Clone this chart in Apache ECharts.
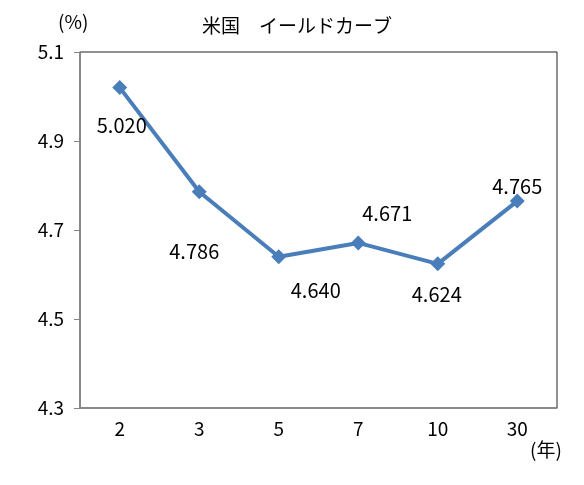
<!DOCTYPE html>
<html>
<head>
<meta charset="utf-8">
<script src="https://cdn.jsdelivr.net/npm/echarts@6/dist/echarts.min.js"></script>
<style>
  html, body { margin: 0; padding: 0; background: #fff; }
  #chart { width: 584px; height: 485px; }
</style>
</head>
<body>
<div id="chart"></div>
<script>
const terms = ['2', '3', '5', '7', '10', '30'];
const yields = [5.020, 4.786, 4.640, 4.671, 4.624, 4.765];
// label offsets relative to each point [dx, dy]
const labelOffsets = [[2, 38], [-5, 60], [37, 34], [29, -29], [-1, 31], [0, -15]];

const font = '"Noto Sans CJK JP", sans-serif';
const chart = echarts.init(document.getElementById('chart'), null, { renderer: 'canvas' });

chart.setOption({
  backgroundColor: '#fff',
  animation: false,
  title: {
    text: '米国　イールドカーブ',
    left: 292,
    top: 11,
    textAlign: 'center',
    textStyle: { fontFamily: font, fontSize: 19, fontWeight: 'normal', color: '#000' }
  },
  graphic: [
    { type: 'text', left: 58, top: 12, style: { text: '(%)', font: '19px ' + font, fill: '#000' } },
    { type: 'text', left: 530, top: 440, style: { text: '(年)', font: '19px ' + font, fill: '#000' } }
  ],
  grid: {
    left: 80, right: 27, top: 52, bottom: 77,
    show: true, borderColor: '#222', borderWidth: 1, backgroundColor: '#fff'
  },
  xAxis: {
    type: 'category',
    data: terms,
    boundaryGap: true,
    axisLine: { lineStyle: { color: '#868686', width: 1.5 } },
    axisTick: { show: false },
    axisLabel: { color: '#000', fontFamily: font, fontSize: 19, margin: 11 }
  },
  yAxis: {
    type: 'value',
    min: 4.3,
    max: 5.1,
    interval: 0.2,
    axisLine: { show: true, lineStyle: { color: '#868686', width: 1.5 } },
    axisTick: { show: true, inside: false, length: 6, lineStyle: { color: '#868686' } },
    splitLine: { show: false },
    axisLabel: {
      color: '#000', fontFamily: font, fontSize: 19, margin: 16,
      formatter: v => v.toFixed(1)
    }
  },
  series: [{
    type: 'line',
    data: yields.map((v, i) => ({
      value: v,
      label: { offset: labelOffsets[i] }
    })),
    symbol: 'diamond',
    symbolSize: 15,
    lineStyle: { color: '#4a7ebb', width: 4 },
    itemStyle: { color: '#4a7ebb' },
    label: {
      show: true,
      position: 'inside',
      color: '#000',
      fontFamily: font,
      fontSize: 20,
      formatter: p => p.value.toFixed(3)
    }
  }]
});
</script>
</body>
</html>
